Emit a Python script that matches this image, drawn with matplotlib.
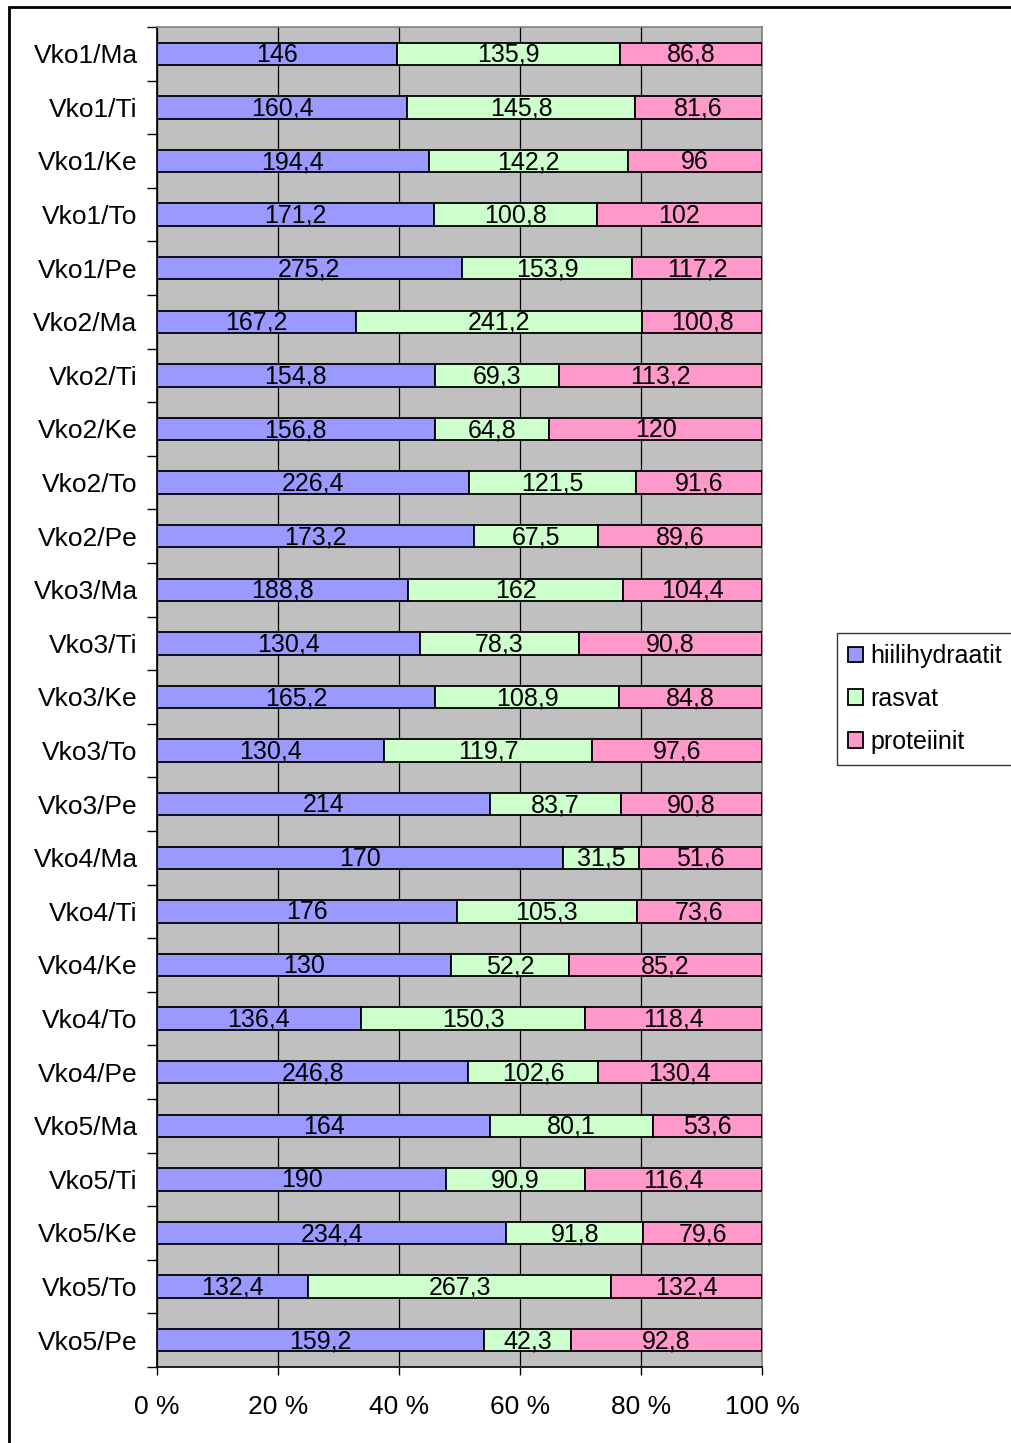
import matplotlib.pyplot as plt
from matplotlib.patches import Rectangle
import numpy as np

plt.rcParams['font.family'] = ['Liberation Sans', 'DejaVu Sans']

# Päivät ylhäältä alas
paivat = ["Vko1/Ma", "Vko1/Ti", "Vko1/Ke", "Vko1/To", "Vko1/Pe",
          "Vko2/Ma", "Vko2/Ti", "Vko2/Ke", "Vko2/To", "Vko2/Pe",
          "Vko3/Ma", "Vko3/Ti", "Vko3/Ke", "Vko3/To", "Vko3/Pe",
          "Vko4/Ma", "Vko4/Ti", "Vko4/Ke", "Vko4/To", "Vko4/Pe",
          "Vko5/Ma", "Vko5/Ti", "Vko5/Ke", "Vko5/To", "Vko5/Pe"]

hiilihydraatit = [146, 160.4, 194.4, 171.2, 275.2,
                  167.2, 154.8, 156.8, 226.4, 173.2,
                  188.8, 130.4, 165.2, 130.4, 214,
                  170, 176, 130, 136.4, 246.8,
                  164, 190, 234.4, 132.4, 159.2]
rasvat = [135.9, 145.8, 142.2, 100.8, 153.9,
          241.2, 69.3, 64.8, 121.5, 67.5,
          162, 78.3, 108.9, 119.7, 83.7,
          31.5, 105.3, 52.2, 150.3, 102.6,
          80.1, 90.9, 91.8, 267.3, 42.3]
proteiinit = [86.8, 81.6, 96, 102, 117.2,
              100.8, 113.2, 120, 91.6, 89.6,
              104.4, 90.8, 84.8, 97.6, 90.8,
              51.6, 73.6, 85.2, 118.4, 130.4,
              53.6, 116.4, 79.6, 132.4, 92.8]

sarjat = [("hiilihydraatit", hiilihydraatit, "#9999FF"),
          ("rasvat", rasvat, "#CCFFCC"),
          ("proteiinit", proteiinit, "#FF99CC")]

W, H = 1011, 1443
fig = plt.figure(figsize=(W / 100, H / 100), dpi=100)
ax = fig.add_axes([157 / W, 1 - 1367 / H, (762 - 157) / W, (1367 - 27) / H])
ax.set_facecolor("#C0C0C0")

y = np.arange(len(paivat))
summa = np.array(hiilihydraatit) + np.array(rasvat) + np.array(proteiinit)
vasen = np.zeros(len(paivat))

for nimi, arvot, vari in sarjat:
    osuus = np.array(arvot) / summa * 100
    ax.barh(y, osuus, left=vasen, height=0.42, color=vari,
            edgecolor="black", linewidth=1.3, label=nimi, zorder=3)
    for yi, v, l, o in zip(y, arvot, vasen, osuus):
        ax.text(l + o / 2, yi + 0.02, f"{v:g}".replace(".", ","), ha="center",
                va="center", fontsize=18, color="black", zorder=4)
    vasen += osuus

ax.set_xlim(0, 100)
ax.set_ylim(len(paivat) - 0.5, -0.5)

ax.set_xticks([0, 20, 40, 60, 80, 100])
ax.set_xticklabels([f"{t} %" for t in range(0, 101, 20)])
ax.tick_params(axis="x", direction="out", length=6, width=1, pad=14,
               labelsize=19)
ax.xaxis.grid(True, color="black", linewidth=0.9, zorder=1)
ax.set_axisbelow(True)

ax.set_yticks(y)
ax.set_yticklabels(paivat)
ax.tick_params(axis="y", which="major", length=0, pad=14, labelsize=19)
ax.set_yticks(np.arange(len(paivat) + 1) - 0.5, minor=True)
ax.tick_params(axis="y", which="minor", direction="out", length=7, width=1)

for s in ("left", "bottom"):
    ax.spines[s].set_color("black")
    ax.spines[s].set_linewidth(1.2)
for s in ("top", "right"):
    ax.spines[s].set_color("#808080")
    ax.spines[s].set_linewidth(1.2)

leg = fig.legend(loc="upper left", bbox_to_anchor=(837 / W, 1 - 633 / H),
                 fontsize=18, frameon=True, fancybox=False, edgecolor="black",
                 handlelength=0.6, handleheight=0.6, handletextpad=0.3,
                 labelspacing=0.75, borderpad=0.45, borderaxespad=0)
leg.get_frame().set_linewidth(1)
for h in leg.legend_handles:
    h.set_edgecolor("black")
    h.set_linewidth(1.3)

# Kehys koko kaavion ympärille
fig.patches.append(Rectangle((9 / W, -0.1), 1.2, 1 - 7 / H + 0.1,
                             transform=fig.transFigure, fill=False,
                             edgecolor="black", linewidth=2))

fig.savefig("out.png", dpi=100)
